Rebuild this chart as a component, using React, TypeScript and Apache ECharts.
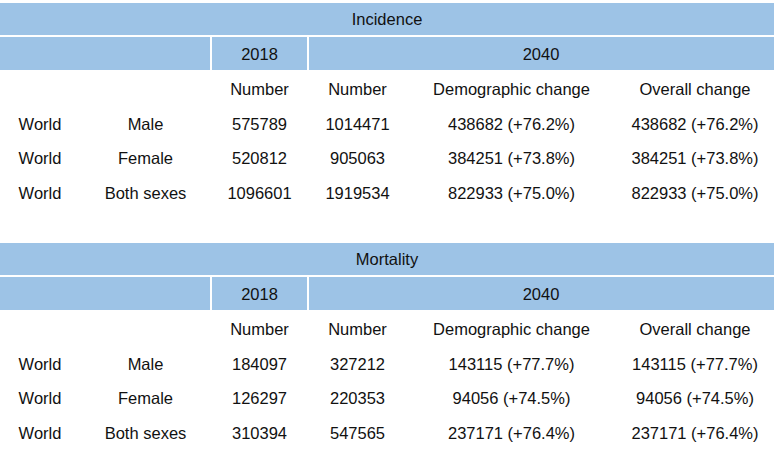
import React, { useEffect, useRef } from "react";
import * as echarts from "echarts";

const sections = ["Incidence", "Mortality"];
const years = ["2018", "2040"];
const colHeaders = ["Number", "Number", "Demographic change", "Overall change"];
const regions = ["World", "World", "World"];
const sexes = ["Male", "Female", "Both sexes"];

const incidence2018 = [575789, 520812, 1096601];
const incidence2040 = [1014471, 905063, 1919534];
const incidenceDemo = ["438682 (+76.2%)", "384251 (+73.8%)", "822933 (+75.0%)"];
const incidenceOverall = ["438682 (+76.2%)", "384251 (+73.8%)", "822933 (+75.0%)"];

const mortality2018 = [184097, 126297, 310394];
const mortality2040 = [327212, 220353, 547565];
const mortalityDemo = ["143115 (+77.7%)", "94056 (+74.5%)", "237171 (+76.4%)"];
const mortalityOverall = ["143115 (+77.7%)", "94056 (+74.5%)", "237171 (+76.4%)"];

const BLUE = "#9dc3e6";
const FONT = "Liberation Sans, Arial, Helvetica, sans-serif";
const colX = [40, 145.5, 259.5, 357.5, 511.5, 695];

function buildSection(top: number, title: string, c2018: number[], c2040: number[], demo: string[], overall: string[]) {
  const els: any[] = [];
  const txt = (x: number, y: number, s: string) => ({
    type: "text",
    x,
    y,
    style: { text: s, fill: "#111", font: `16.5px ${FONT}`, align: "center", verticalAlign: "middle" },
  });
  els.push({ type: "rect", shape: { x: 0, y: top, width: 774, height: 32 }, style: { fill: BLUE } });
  els.push({ type: "rect", shape: { x: 0, y: top + 34, width: 210, height: 33 }, style: { fill: BLUE } });
  els.push({ type: "rect", shape: { x: 212, y: top + 34, width: 95, height: 33 }, style: { fill: BLUE } });
  els.push({ type: "rect", shape: { x: 309, y: top + 34, width: 465, height: 33 }, style: { fill: BLUE } });
  els.push(txt(387, top + 16, title));
  els.push(txt(colX[2], top + 51, years[0]));
  els.push(txt(541, top + 51, years[1]));
  colHeaders.forEach((h, i) => els.push(txt(colX[2 + i], top + 86, h)));
  for (let r = 0; r < 3; r++) {
    const y = top + 121 + r * 34.3;
    els.push(txt(colX[0], y, regions[r]));
    els.push(txt(colX[1], y, sexes[r]));
    els.push(txt(colX[2], y, String(c2018[r])));
    els.push(txt(colX[3], y, String(c2040[r])));
    els.push(txt(colX[4], y, demo[r]));
    els.push(txt(colX[5], y, overall[r]));
  }
  return els;
}

export default function App() {
  const ref = useRef<HTMLDivElement>(null);
  useEffect(() => {
    if (!ref.current) return;
    const chart = echarts.init(ref.current, null, { renderer: "svg" });
    chart.setOption({
      animation: false,
      backgroundColor: "#ffffff",
      graphic: [
        ...buildSection(3, sections[0], incidence2018, incidence2040, incidenceDemo, incidenceOverall),
        ...buildSection(243, sections[1], mortality2018, mortality2040, mortalityDemo, mortalityOverall),
      ],
    });
    return () => chart.dispose();
  }, []);
  return <div ref={ref} style={{ width: 775, height: 460, position: "absolute", left: 0, top: 0 }} />;
}
